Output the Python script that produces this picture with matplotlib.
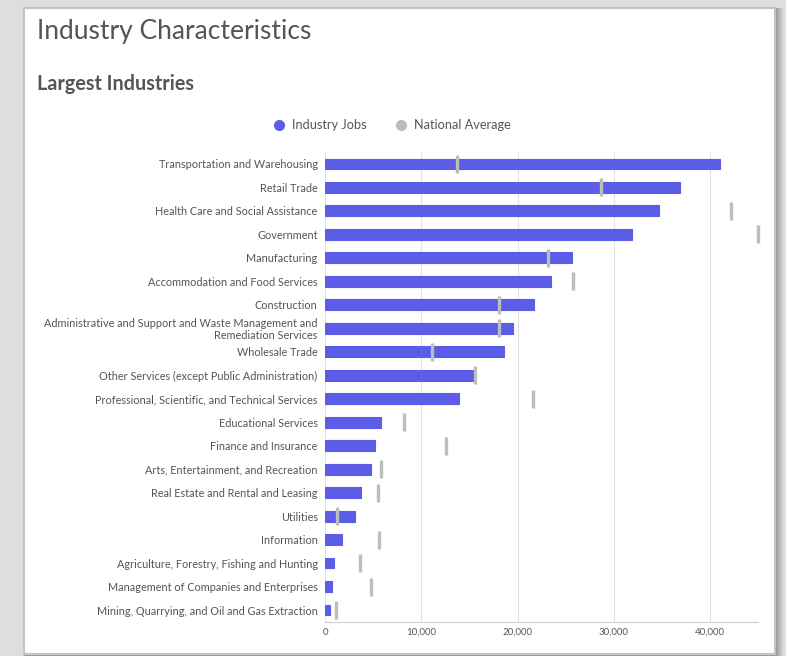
import numpy as np
import matplotlib
matplotlib.use("Agg")
import matplotlib.pyplot as plt
from matplotlib.patches import Rectangle
from matplotlib.lines import Line2D

# data
industries = [
    "Transportation and Warehousing",
    "Retail Trade",
    "Health Care and Social Assistance",
    "Government",
    "Manufacturing",
    "Accommodation and Food Services",
    "Construction",
    "Administrative and Support and Waste Management and\nRemediation Services",
    "Wholesale Trade",
    "Other Services (except Public Administration)",
    "Professional, Scientific, and Technical Services",
    "Educational Services",
    "Finance and Insurance",
    "Arts, Entertainment, and Recreation",
    "Real Estate and Rental and Leasing",
    "Utilities",
    "Information",
    "Agriculture, Forestry, Fishing and Hunting",
    "Management of Companies and Enterprises",
    "Mining, Quarrying, and Oil and Gas Extraction",
]
industry_jobs = [41030, 36900, 34690, 31850, 25610, 23460, 21730, 19510, 18580, 15320,
                 13870, 5790, 5200, 4780, 3680, 3050, 1700, 940, 700, 490]
national_avg = [13660, 28660, 42200, 45050, 23190, 25750, 18090, 18020, 11090, 15530,
                21620, 8150, 12550, 5760, 5510, 1250, 5610, 3640, 4720, 1110]
x_ticks = [0, 10000, 20000, 30000, 40000]
x_tick_labels = ["0", "10,000", "20,000", "30,000", "40,000"]

BAR_COLOR = "#5b5de6"
AVG_COLOR = "#bdbdbd"
TEXT_COLOR = "#555555"

plt.rcParams['font.family'] = ['Lato', 'DejaVu Sans']

W, H = 786, 656
fig = plt.figure(figsize=(W / 100, H / 100), dpi=100)
fig.patch.set_facecolor("#dedede")

# card with a soft shadow on the right
for i, c in enumerate(["#cfcfcf", "#bdbdbd", "#ababab", "#9c9c9c"]):
    fig.patches.append(Rectangle((24 / W, 0), (751 + 8 - 2 * i) / W, (H - 8) / H,
                                 transform=fig.transFigure, facecolor=c, edgecolor="none", zorder=-3))
fig.patches.append(Rectangle((24 / W, 2 / H), 751 / W, (H - 10) / H, transform=fig.transFigure,
                             facecolor="white", edgecolor="#c4c4c4", linewidth=1.5, zorder=-2))

fig.text(37 / W, 1 - 32 / H, "Industry Characteristics", fontsize=19, color=TEXT_COLOR,
         va="center", ha="left")
fig.text(37 / W, 1 - 84 / H, "Largest Industries", fontsize=14.2, color=TEXT_COLOR,
         fontweight="bold", va="center", ha="left")

ax = fig.add_axes([325.3 / W, 1 - 622 / H, (758 - 325.3) / W, (622 - 151) / H])
ax.set_zorder(2)
ax.patch.set_alpha(0)

y = np.arange(len(industries))
ax.barh(y, industry_jobs, height=0.46, color=BAR_COLOR, edgecolor=BAR_COLOR,
        linewidth=0.8, joinstyle="round", zorder=2)
ax.plot(national_avg, y, linestyle="none", marker="|", markersize=12.5,
        markeredgewidth=2.4, color=AVG_COLOR, zorder=3, clip_on=False)

ax.set_xlim(0, 45000)
ax.set_ylim(19.51, -0.55)
ax.set_yticks(y)
ax.set_yticklabels(industries, fontsize=7.85, color=TEXT_COLOR, linespacing=1.1)
ax.set_xticks(x_ticks)
ax.set_xticklabels(x_tick_labels, fontsize=7, color=TEXT_COLOR)
ax.tick_params(axis="y", length=0, pad=5.5)
ax.tick_params(axis="x", length=0, pad=4)
ax.xaxis.grid(True, color="#e3e3e3", linewidth=0.8, zorder=0)
ax.set_axisbelow(True)
for side in ["top", "right", "left"]:
    ax.spines[side].set_visible(False)
ax.spines["bottom"].set_color("#d0d0d0")
ax.spines["bottom"].set_linewidth(0.8)

handles = [
    Line2D([], [], linestyle="none", marker="o", markersize=7, color=BAR_COLOR),
    Line2D([], [], linestyle="none", marker="o", markersize=7, color=AVG_COLOR),
]
fig.legend(handles, ["Industry Jobs", "National Average"], loc="center",
           bbox_to_anchor=(392 / W, 1 - 125 / H), ncol=2, frameon=False,
           fontsize=9.2, labelcolor=TEXT_COLOR, handletextpad=0.5, columnspacing=2.2,
           handlelength=1.0)

fig.savefig("out.png", dpi=100, facecolor=fig.get_facecolor())
